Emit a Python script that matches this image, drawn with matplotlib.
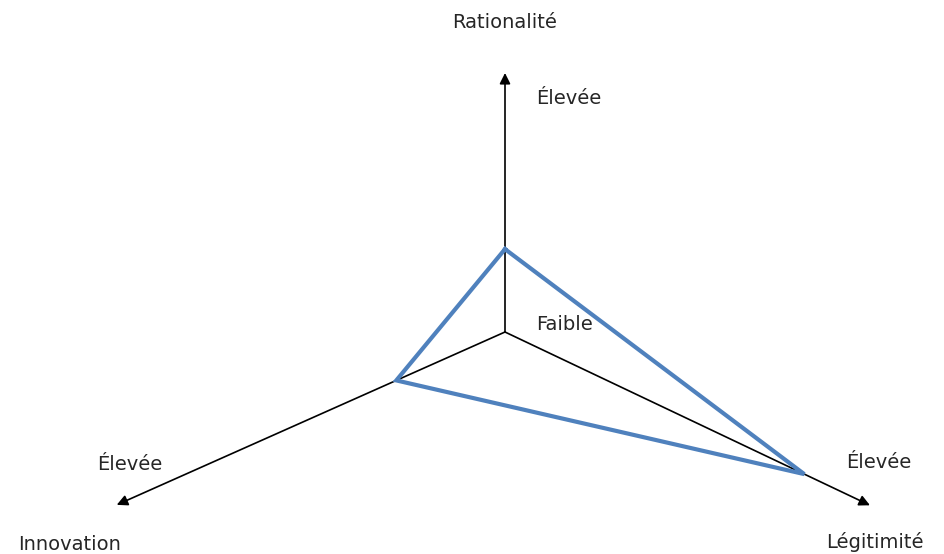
import numpy as np
import matplotlib.pyplot as plt

# three axes of the diagram
axis_names = ["Rationalité", "Innovation", "Légitimité"]
axis_high = ["Élevée", "Élevée", "Élevée"]
axis_low = "Faible"
# position of the blue profile along each axis (0 = centre, 1 = arrow tip)
profile = [0.32, 0.28, 0.82]

# geometry (pixels from centre)
angles = np.radians([90, 204.0, -25.4])
lengths = [259, 425, 404]

fig = plt.figure(figsize=(9.44, 5.54), dpi=100)
ax = fig.add_axes([0, 0, 1, 1])
ax.set_xlim(-505, 439)
ax.set_ylim(-222, 332)
ax.set_aspect('equal')
ax.axis('off')

dirs = np.column_stack([np.cos(angles), np.sin(angles)])

for d, L in zip(dirs, lengths):
    ax.annotate("", xy=(d[0] * L, d[1] * L), xytext=(0, 0),
                arrowprops=dict(arrowstyle='-|>', color='black', lw=1.2,
                                mutation_scale=16, shrinkA=0, shrinkB=0))

pts = np.array([dirs[i] * lengths[i] * profile[i] for i in range(3)])
pts = np.vstack([pts, pts[:1]])
ax.plot(pts[:, 0], pts[:, 1], color='#4F81BD', lw=3, solid_joinstyle='miter', zorder=3)

fs = 14
tc = '#262626'
# axis titles
ax.text(0, 310, axis_names[0], ha='center', va='center', fontsize=fs, color=tc)
ax.text(-435, -213, axis_names[1], ha='center', va='center', fontsize=fs, color=tc)
ax.text(370, -210, axis_names[2], ha='center', va='center', fontsize=fs, color=tc)
# high / low labels
ax.text(64, 234, axis_high[0], ha='center', va='center', fontsize=fs, color=tc)
ax.text(-375, -133, axis_high[1], ha='center', va='center', fontsize=fs, color=tc)
ax.text(374, -131, axis_high[2], ha='center', va='center', fontsize=fs, color=tc)
ax.text(59, 7, axis_low, ha='center', va='center', fontsize=fs, color=tc)

fig.savefig("out.png", dpi=100)
